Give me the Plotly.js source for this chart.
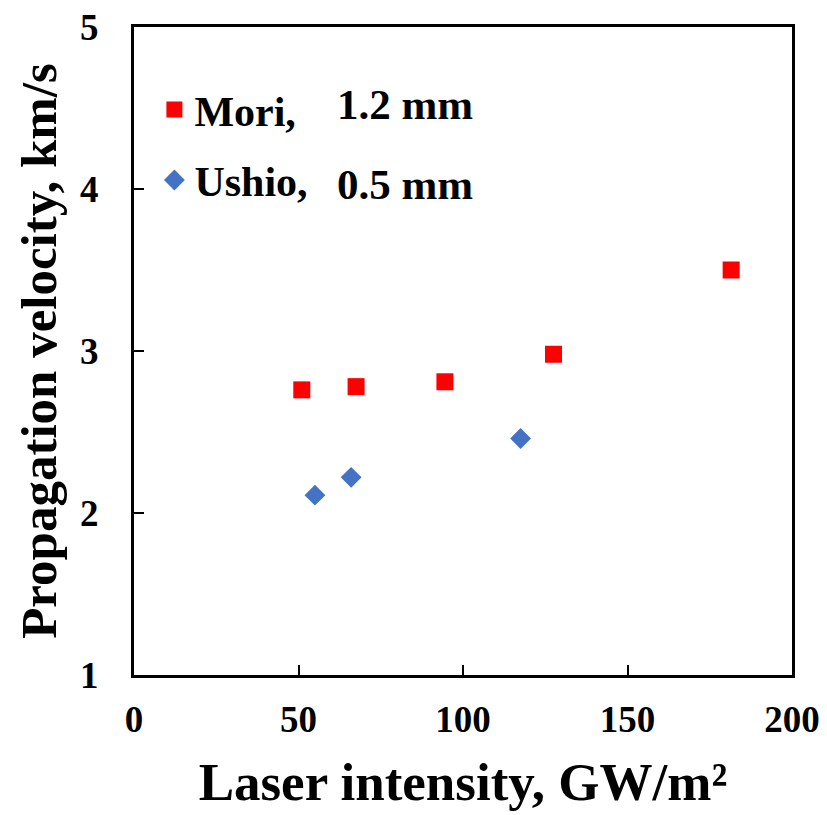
<!DOCTYPE html>
<html><head><meta charset="utf-8">
<script src="https://cdn.plot.ly/plotly-3.0.1.min.js"></script>
<style>html,body{margin:0;padding:0;background:#fff}#chart{width:827px;height:815px}</style>
</head><body><div id="chart"></div>
<script>
const moriX = [51, 67.5, 94.5, 127.5, 181.5];
const moriY = [2.76, 2.78, 2.81, 2.98, 3.50];
const ushioX = [55, 66, 117.5];
const ushioY = [2.11, 2.22, 2.46];
const xTicks = [0, 50, 100, 150, 200];
const yTicks = [1, 2, 3, 4, 5];
const seriesNames = ["Mori,", "Ushio,"];
const sizeLabels = ["1.2 mm", "0.5 mm"];

const F = "'Liberation Serif','Times New Roman',serif";
const traces = [
  {x: moriX, y: moriY, name: seriesNames[0], mode: "markers", type: "scatter", legendgroup: "a",
   marker: {symbol: "square", size: 17, color: "#FF0000"}},
  {x: ushioX, y: ushioY, name: seriesNames[1], mode: "markers", type: "scatter", legendgroup: "b",
   marker: {symbol: "diamond", size: 16, color: "#4472C4"}}
];
const layout = {
  width: 827, height: 815,
  margin: {l: 134, r: 35, t: 27, b: 140},
  paper_bgcolor: "#fff", plot_bgcolor: "#fff",
  font: {family: F, color: "#000"},
  showlegend: true,
  legend: {x: 0.031, y: 0.925, xanchor: "left", yanchor: "top", bgcolor: "rgba(0,0,0,0)",
           font: {family: F, size: 42, weight: "bold", color: "#000"},
           traceorder: "grouped", tracegroupgap: 13, itemsizing: "trace"},
  xaxis: {range: [0, 200], tickvals: xTicks, ticks: "inside", ticklen: 10, tickwidth: 2, tickcolor: "#000",
          showline: true, linewidth: 3, linecolor: "#000", mirror: true, showgrid: false, zeroline: false,
          tickfont: {family: F, size: 37, weight: "bold"}, ticklabelstandoff: 10,
          title: {text: "Laser intensity, GW/m²", font: {family: F, size: 53, weight: "bold"}, standoff: 24}},
  yaxis: {range: [1, 5], tickvals: yTicks, ticks: "inside", ticklen: 10, tickwidth: 2, tickcolor: "#000",
          showline: true, linewidth: 3, linecolor: "#000", mirror: true, showgrid: false, zeroline: false,
          tickfont: {family: F, size: 37, weight: "bold"}, ticklabelstandoff: 25,
          title: {text: "Propagation velocity, km/s", font: {family: F, size: 51, weight: "bold"}, standoff: 8}},
  annotations: [
    {xref: "paper", yref: "y", x: 0.306, y: 4.52, text: sizeLabels[0], showarrow: false, xanchor: "left",
     font: {family: F, size: 43, weight: "bold", color: "#000"}},
    {xref: "paper", yref: "y", x: 0.306, y: 4.03, text: sizeLabels[1], showarrow: false, xanchor: "left",
     font: {family: F, size: 43, weight: "bold", color: "#000"}}
  ]
};
Plotly.newPlot("chart", traces, layout, {displayModeBar: false, staticPlot: true});
</script></body></html>
